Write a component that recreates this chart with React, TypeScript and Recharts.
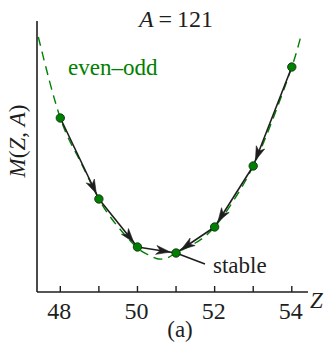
import React from "react";
import {
  LineChart,
  Line,
  XAxis,
  YAxis,
  ReferenceLine,
  Scatter,
} from "recharts";

// Proton number Z, mass M(Z, A) in arbitrary units
const pointZ = [48, 49, 50, 51, 52, 53, 54];
const pointM = [17.4, 9.3, 4.5, 3.9, 6.5, 12.6, 22.5];

// dashed even–odd mass parabola
const curveZ = [47.43, 48, 48.5, 49, 49.5, 50, 50.3, 50.55, 50.8, 51, 51.5, 52, 52.5, 53, 53.5, 54, 54.25];
const curveM = [25.5, 17.4, 13.2, 9.3, 6.5, 4.4, 3.7, 3.3, 3.45, 3.9, 4.9, 6.5, 9.2, 12.6, 17.2, 22.5, 25.8];

// decay arrows: [from Z, to Z]
const arrows: [number, number][] = [
  [48, 49],
  [49, 50],
  [50, 51],
  [54, 53],
  [53, 52],
  [52, 51],
];

const xTicks = [48, 49, 50, 51, 52, 53, 54];
const xTickLabels = [48, 50, 52, 54];

const stableZ = 51;
const stableLabelEnd = { Z: 51.75, M: 2.8 };

const points = pointZ.map((z, i) => ({ z, m: pointM[i] }));
const curve = curveZ.map((z, i) => ({ z, m: curveM[i] }));
const mAt = (z: number) => pointM[pointZ.indexOf(z)];

const FONT = "'Liberation Serif', 'Times New Roman', serif";
const GREEN = "#008000";
const INK = "#1e1e1e";

const ArrowShape = (props: any) => {
  const { x1, y1, x2, y2 } = props;
  const dx = x2 - x1;
  const dy = y2 - y1;
  const len = Math.sqrt(dx * dx + dy * dy) || 1;
  const ux = dx / len;
  const uy = dy / len;
  const gap = 6;
  const headLen = 14;
  const halfW = 4.5;
  const notch = 4;
  const tx = x2 - ux * gap;
  const ty = y2 - uy * gap;
  const bx = tx - ux * headLen;
  const by = ty - uy * headLen;
  const nx = -uy;
  const ny = ux;
  const ix = tx - ux * (headLen - notch);
  const iy = ty - uy * (headLen - notch);
  const d = `M${tx},${ty} L${bx + nx * halfW},${by + ny * halfW} L${ix},${iy} L${bx - nx * halfW},${by - ny * halfW} Z`;
  return (
    <g>
      <line x1={x1} y1={y1} x2={x2} y2={y2} stroke={INK} strokeWidth={1.6} />
      <path d={d} fill={INK} stroke={INK} strokeWidth={0.6} strokeLinejoin="miter" />
    </g>
  );
};

const PlainLine = (props: any) => {
  const { x1, y1, x2, y2 } = props;
  return <line x1={x1} y1={y1} x2={x2} y2={y2} stroke={INK} strokeWidth={1.6} />;
};

const Tick = (props: any) => {
  const { x, y, payload } = props;
  const v = payload.value;
  return (
    <g>
      <line x1={x} y1={y} x2={x} y2={y - 6} stroke={INK} strokeWidth={1.4} />
      {xTickLabels.includes(v) && (
        <text x={x - 1} y={y + 27} textAnchor="middle" style={{ fontFamily: FONT, fontSize: 24 }} fill={INK}>
          {v}
        </text>
      )}
    </g>
  );
};

const Dot = (props: any) => {
  const { cx, cy } = props;
  return <circle cx={cx} cy={cy} r={4.2} fill={GREEN} stroke="#123312" strokeWidth={0.9} />;
};

const txt = (size: number, extra: any = {}) => ({ fontFamily: FONT, fontSize: size, ...extra });

export default function App() {
  return (
    <div style={{ position: "absolute", left: 0, top: 0, width: 326, height: 343, background: "#fff" }}>
      <LineChart
        width={326}
        height={343}
        margin={{ top: 21, right: 18, bottom: 21, left: 36 }}
      >
        <XAxis
          type="number"
          dataKey="z"
          domain={[47.396, 54.42]}
          ticks={xTicks}
          interval={0}
          allowDataOverflow
          height={30}
          tickSize={0}
          tickMargin={0}
          tickLine={false}
          tick={<Tick />}
          axisLine={{ stroke: INK, strokeWidth: 1.6 }}
        />
        <YAxis
          type="number"
          dataKey="m"
          domain={[0, 27.1]}
          allowDataOverflow
          width={1}
          tick={false}
          tickLine={false}
          axisLine={{ stroke: INK, strokeWidth: 1.6 }}
        />
        <Line
          data={curve}
          dataKey="m"
          type="natural"
          stroke={GREEN}
          strokeWidth={1.4}
          strokeDasharray="9 6"
          dot={false}
          activeDot={false}
          isAnimationActive={false}
        />
        {arrows.map(([a, b]) => (
          <ReferenceLine
            key={`${a}-${b}`}
            segment={[
              { x: a, y: mAt(a) },
              { x: b, y: mAt(b) },
            ]}
            ifOverflow="visible"
            shape={ArrowShape}
          />
        ))}
        <ReferenceLine
          segment={[
            { x: stableZ, y: mAt(stableZ) },
            { x: stableLabelEnd.Z, y: stableLabelEnd.M },
          ]}
          ifOverflow="visible"
          shape={PlainLine}
        />
        <Scatter data={points} dataKey="m" shape={<Dot />} isAnimationActive={false} />
      </LineChart>
      <svg
        width={326}
        height={343}
        style={{ position: "absolute", left: 0, top: 0, pointerEvents: "none" }}
      >
        <text x={176} y={27} textAnchor="middle" style={txt(24)} fill={INK}>
          <tspan style={{ fontStyle: "italic" }}>A</tspan>
          <tspan dx={5}>=</tspan>
          <tspan dx={5}>121</tspan>
        </text>
        <text x={68} y={75} style={txt(23)} fill={GREEN}>
          even–odd
        </text>
        <text x={213} y={273} style={txt(23)} fill={INK}>
          stable
        </text>
        <text x={310} y={308} style={txt(23, { fontStyle: "italic" })} fill={INK}>
          Z
        </text>
        <text x={180} y={337} textAnchor="middle" style={txt(23)} fill={INK}>
          (a)
        </text>
        <text
          transform="translate(25,141) rotate(-90)"
          textAnchor="middle"
          style={txt(23)}
          fill={INK}
        >
          <tspan style={{ fontStyle: "italic" }}>M</tspan>
          <tspan>(</tspan>
          <tspan style={{ fontStyle: "italic" }}>Z</tspan>
          <tspan>, </tspan>
          <tspan style={{ fontStyle: "italic" }}>A</tspan>
          <tspan>)</tspan>
        </text>
      </svg>
    </div>
  );
}
